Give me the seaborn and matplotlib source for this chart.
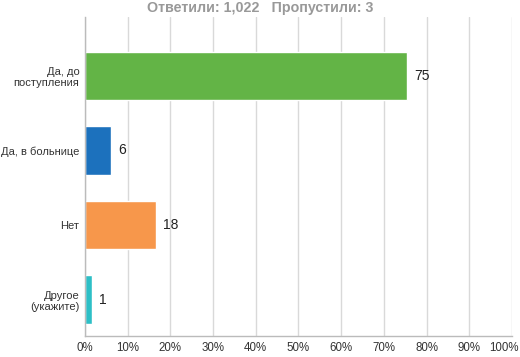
import pandas as pd
import seaborn as sns
import matplotlib.pyplot as plt
import matplotlib.transforms as mtransforms

answers = ["Да, до\nпоступления", "Да, в больнице", "Нет", "Другое\n(укажите)"]
percent = [75.5, 6.2, 16.6, 1.6]
value_labels = ["75", "6", "18", "1"]
colors = ["#63b446", "#1c71bd", "#f7974b", "#2dbfc6"]
ticks = list(range(0, 101, 10))

df = pd.DataFrame({"answer": answers, "percent": percent})

sns.set_theme(style="white")
plt.rcParams["font.family"] = ["Liberation Sans", "DejaVu Sans"]

fig = plt.figure(figsize=(5.2, 3.57), dpi=100)
ax = fig.add_axes([0.1635, 0.058, 0.821, 0.894])

sns.barplot(data=df, y="answer", x="percent", hue="answer", palette=colors,
            orient="h", width=0.65, legend=False, saturation=1, ax=ax)

for i, (v, lab) in enumerate(zip(percent, value_labels)):
    ax.text(v + 1.7, i, lab, va="center", ha="left", fontsize=10, color="#222222")

ax.set_xlim(0, 100)
ax.set_ylim(3.493, -0.787)
ax.set_xticks(ticks)
ax.set_xticklabels([f"{t}%" for t in ticks], fontsize=8.3, color="#333333")
ax.tick_params(axis="y", labelsize=8.0, colors="#333333", length=0, pad=4)
ax.tick_params(axis="x", length=0, pad=4)
# last label sits pulled in from the right edge
last = ax.get_xticklabels()[-1]
last.set_ha("right")
last.set_transform(last.get_transform() + mtransforms.ScaledTranslation(7 / 100, 0, fig.dpi_scale_trans))
ax.set_xlabel("")
ax.set_ylabel("")
ax.grid(axis="x", color="#d9d9d9", linewidth=1)
ax.set_axisbelow(True)
for s in ["top", "right"]:
    ax.spines[s].set_visible(False)
for s in ["left", "bottom"]:
    ax.spines[s].set_color("#bbbbbb")
    ax.spines[s].set_linewidth(1)

fig.text(0.5, 0.978, "Ответили: 1,022   Пропустили: 3", ha="center", va="center",
         fontsize=10.3, fontweight="bold", color="#999999")

fig.savefig("out.png", dpi=100)
